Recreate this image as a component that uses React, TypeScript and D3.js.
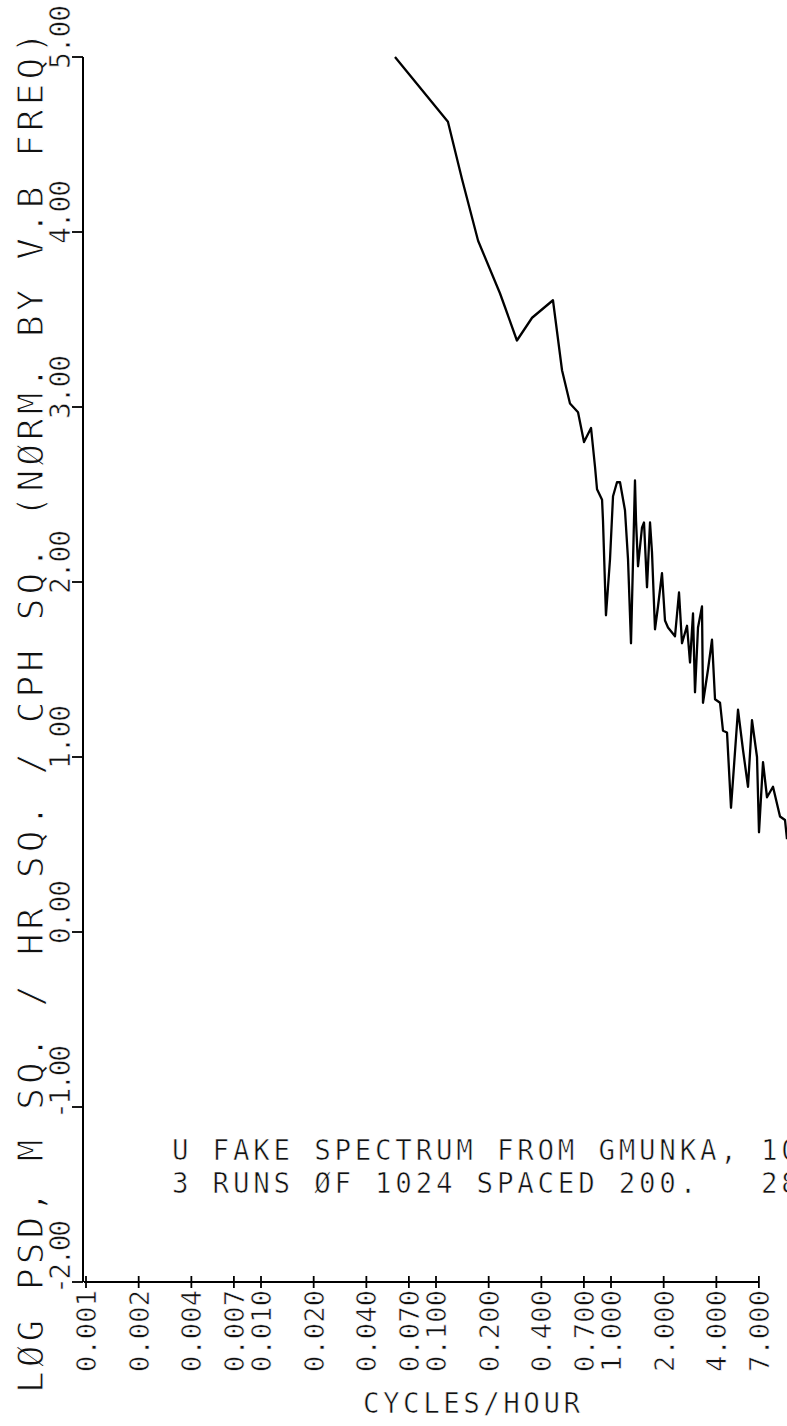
import React from "react";
import * as d3 from "d3";

// Spectrum: frequency (cycles/hour) and log10 PSD
const freq: number[] = [
  0.0583, 0.117, 0.141, 0.174, 0.232, 0.248, 0.29, 0.354, 0.466, 0.525,
  0.583, 0.648, 0.701, 0.769, 0.81, 0.832, 0.889, 0.9, 0.936, 0.987,
  1.027, 1.082, 1.126, 1.202, 1.251, 1.301, 1.371, 1.39, 1.427, 1.503,
  1.544, 1.606, 1.671, 1.715, 1.784, 1.856, 1.956, 2.035, 2.117, 2.321,
  2.447, 2.545, 2.719, 2.828, 2.942, 3.02, 3.142, 3.311, 3.355, 3.584,
  3.777, 3.93, 4.198, 4.365, 4.602, 4.85, 5.318, 5.68, 6.066, 6.392,
  6.829, 7.01, 7.39, 7.788, 8.428, 9.242, 9.869, 10.13,
];
const logPsd: number[] = [
  5.0, 4.63, 4.3, 3.95, 3.65, 3.57, 3.38, 3.51, 3.61, 3.21,
  3.02, 2.97, 2.8, 2.88, 2.66, 2.53, 2.47, 2.35, 1.81, 2.13,
  2.49, 2.57, 2.57, 2.41, 2.13, 1.65, 2.58, 2.35, 2.09, 2.31,
  2.34, 1.97, 2.34, 2.17, 1.73, 1.86, 2.05, 1.78, 1.74, 1.69,
  1.94, 1.65, 1.75, 1.54, 1.82, 1.37, 1.74, 1.86, 1.31, 1.5,
  1.67, 1.33, 1.31, 1.15, 1.14, 0.71, 1.27, 1.04, 0.83, 1.21,
  1.0, 0.57, 0.97, 0.77, 0.83, 0.66, 0.64, 0.53,
];

const xTicks: number[] = [
  0.001, 0.002, 0.004, 0.007, 0.01, 0.02, 0.04, 0.07, 0.1, 0.2, 0.4, 0.7,
  1, 2, 4, 7,
];
const xTickLabels: string[] = [
  "0.001", "0.002", "0.004", "0.007", "0.010", "0.020", "0.040", "0.070",
  "0.100", "0.200", "0.400", "0.700", "1.000", "2.000", "4.000", "7.000",
];
const yTicks: number[] = [-2, -1, 0, 1, 2, 3, 4, 5];
const yTickLabels: string[] = [
  "-2.00", "-1.00", "0.00", "1.00", "2.00", "3.00", "4.00", "5.00",
];

const yTitle = "LØG PSD, M SQ. / HR SQ. / CPH SQ. (NØRM. BY V.B FREQ)";
const xTitle = "CYCLES/HOUR";
const noteLines: string[] = [
  "U FAKE SPECTRUM FROM GMUNKA, 10",
  "3 RUNS ØF 1024 SPACED 200.   28",
];

const W = 787;
const H = 1426;
const FONT = "'DejaVu Sans Mono', monospace";

// thin plotter-pen lettering: a white halo painted over the glyph edges
const pen = (w: number) => ({
  fill: "#111",
  stroke: "#fff",
  strokeWidth: w,
  paintOrder: "fill stroke" as const,
});

export default function App() {
  const x = d3.scaleLog().domain([0.001, 10]).range([86, 786]);
  const y = d3.scaleLinear().domain([-2, 5]).range([1282, 57]);
  const x0 = x(0.001);
  const axisX = 83;
  const axisY = y(-2);

  const pts: [number, number][] = freq.map((f, i) => [f, logPsd[i]]);
  const line = d3
    .line<[number, number]>()
    .x((d) => x(d[0]))
    .y((d) => y(d[1]));

  return (
    <svg
      width={W}
      height={H}
      viewBox={`0 0 ${W} ${H}`}
      style={{ position: "absolute", left: 0, top: 0, background: "#fff" }}
      fontFamily={FONT}
    >
      <rect width={W} height={H} fill="#fff" />

      {/* y axis */}
      <line x1={axisX} x2={axisX} y1={y(5)} y2={axisY} stroke="#000" strokeWidth={2} />
      {yTicks.map((t, i) => (
        <g key={"yt" + i}>
          <line x1={axisX - 11} x2={axisX} y1={y(t)} y2={y(t)} stroke="#000" strokeWidth={1.8} />
          <text
            transform={`translate(70,${y(t) + 12}) rotate(-90)`}
            fontSize={28}
            textLength={t < 0 ? 74 : 64}
            lengthAdjust="spacing"
            textAnchor="start"
            style={pen(0.6)}
          >
            {yTickLabels[i]}
          </text>
        </g>
      ))}
      <text
        transform={`translate(43,1393) rotate(-90)`}
        fontSize={36}
        textLength={1361}
        lengthAdjust="spacing"
        style={{ whiteSpace: "pre", ...pen(1.1) }}
      >
        {yTitle}
      </text>

      {/* x axis */}
      <line x1={x0 - 2} x2={x(7)} y1={axisY} y2={axisY} stroke="#000" strokeWidth={1.8} />
      {xTicks.map((t, i) => (
        <g key={"xt" + i}>
          <line x1={x(t)} x2={x(t)} y1={axisY - 6} y2={axisY + 6} stroke="#000" strokeWidth={1.8} />
          <text
            transform={`translate(${x(t) + 10},1290) rotate(-90)`}
            fontSize={27}
            textLength={82}
            lengthAdjust="spacing"
            textAnchor="end"
            style={pen(0.6)}
          >
            {xTickLabels[i]}
          </text>
        </g>
      ))}
      <text
        x={363}
        y={1413}
        fontSize={27.5}
        textLength={217}
        lengthAdjust="spacing"
        style={pen(0.6)}
      >
        {xTitle}
      </text>

      {/* annotation */}
      {noteLines.map((s, i) => (
        <text
          key={"n" + i}
          x={172}
          y={1160 + i * 33}
          fontSize={27.5}
          letterSpacing={3.75}
          style={{ whiteSpace: "pre", ...pen(0.6) }}
        >
          {s}
        </text>
      ))}

      {/* spectrum */}
      <path d={line(pts) || ""} fill="none" stroke="#000" strokeWidth={2.3} strokeLinejoin="round" />
    </svg>
  );
}
